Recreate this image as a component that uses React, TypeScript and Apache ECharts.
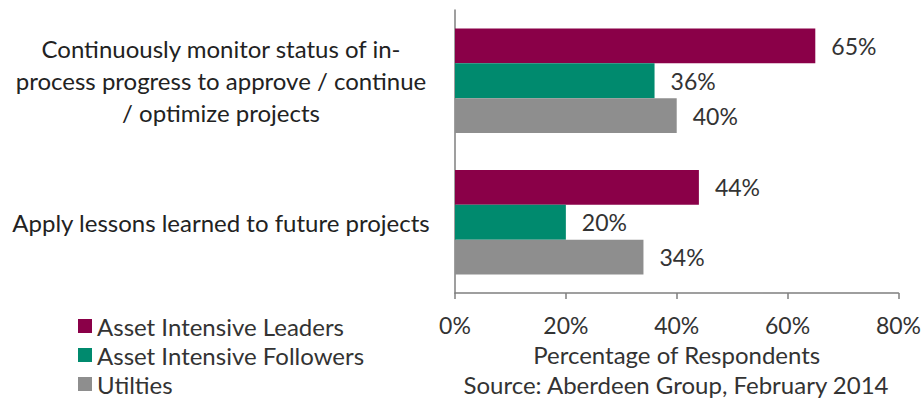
import React, { useEffect, useRef } from "react";
import * as echarts from "echarts";

const categories = [
  "Continuously monitor status of in-\nprocess progress to approve / continue\n/ optimize projects",
  "Apply lessons learned to future projects",
];
const seriesNames = ["Asset Intensive Leaders", "Asset Intensive Followers", "Utilties"];
const leaders = [65, 44];
const followers = [36, 20];
const utilities = [40, 34];
const xTicks = [0, 20, 40, 60, 80];
const colors = ["#8a0048", "#008a6e", "#8e8e8e"];

const FONT = "Lato";

export default function App() {
  const ref = useRef<HTMLDivElement>(null);
  useEffect(() => {
    document.body.style.margin = "0";
    if (!ref.current) return;
    const chart = echarts.init(ref.current, null, { renderer: "svg" });
    const values = [leaders, followers, utilities];
    chart.setOption({
      animation: false,
      textStyle: { fontFamily: FONT },
      grid: { left: 455, right: 24, top: 10, bottom: 112, containLabel: false },
      legend: {
        orient: "vertical",
        left: 73,
        top: 309,
        itemWidth: 14,
        itemHeight: 14,
        itemGap: 5,
        icon: "rect",
        textStyle: { fontFamily: FONT, fontSize: 24, color: "#333" },
        data: seriesNames,
      },
      xAxis: {
        type: "value",
        min: xTicks[0],
        max: xTicks[xTicks.length - 1],
        interval: 20,
        axisLine: { show: true, lineStyle: { color: "#7f7f7f", width: 1.5 } },
        axisTick: { show: true, length: 6, lineStyle: { color: "#7f7f7f", width: 1.5 } },
        splitLine: { show: false },
        axisLabel: {
          formatter: "{value}%",
          fontFamily: FONT,
          fontSize: 23,
          color: "#333",
          margin: 20,
        },
        name: "Percentage of Respondents",
        nameLocation: "middle",
        nameGap: 49,
        nameTextStyle: { fontFamily: FONT, fontSize: 24, color: "#333" },
      },
      yAxis: {
        type: "category",
        data: categories,
        inverse: true,
        axisLine: { show: true, lineStyle: { color: "#7f7f7f", width: 1.5 } },
        axisTick: { show: false },
        axisLabel: {
          fontFamily: FONT,
          fontSize: 24,
          color: "#222",
          align: "center",
          margin: 234,
          lineHeight: 32,
        },
      },
      graphic: [
        {
          type: "text",
          x: 676,
          y: 384,
          style: {
            text: "Source: Aberdeen Group, February 2014",
            font: `24px ${FONT}`,
            fill: "#333",
            align: "center",
            verticalAlign: "middle",
          },
        },
      ],
      series: seriesNames.map((name, i) => ({
        name,
        type: "bar",
        data: values[i],
        barGap: "0%",
        barCategoryGap: "26%",
        itemStyle: { color: colors[i] },
        label: {
          show: true,
          position: "right",
          distance: 16,
          formatter: "{c}%",
          fontFamily: FONT,
          fontSize: 23,
          color: "#333",
        },
      })),
    });
    return () => chart.dispose();
  }, []);
  return <div ref={ref} style={{ width: 924, height: 405 }} />;
}
